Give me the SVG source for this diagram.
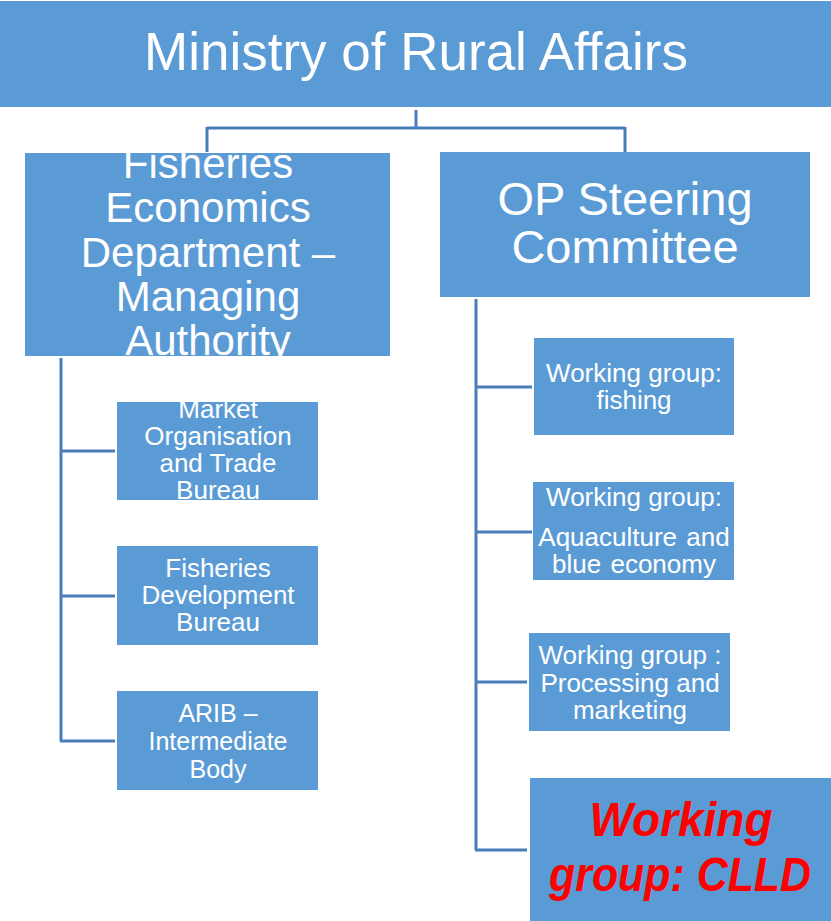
<svg xmlns="http://www.w3.org/2000/svg" width="831" height="921" viewBox="0 0 831 921">
<style>
.box{fill:#5B9BD5;}
.t{fill:#fff;font-family:"Liberation Sans",Arial,sans-serif;text-anchor:middle;}
.c{fill:none;stroke:#4A7EBB;stroke-width:3;}
.red{fill:#FF0000;font-family:"Liberation Sans",Arial,sans-serif;font-weight:bold;font-style:italic;text-anchor:middle;}
</style>
<rect width="831" height="921" fill="#fff"/>
<g id="connectors">
<path class="c" d="M416 110V128M207 128H625M207 127V152M625 127V152"/>
<path class="c" d="M61 358V741M60 451H115M60 596H115M60 741H115"/>
<path class="c" d="M476 299V850M475 387H532M475 532H532M475 682H527M475 850H527"/>
</g>
<g id="ministry">
<rect class="box" x="0" y="1" width="831" height="106"/>
<text class="t" x="416" y="70" font-size="53">Ministry of Rural Affairs</text>
</g>
<g id="fisheries-economics">
<rect class="box" x="25" y="153" width="365" height="203"/>
<text class="t" font-size="42"><tspan x="208" y="178">Fisheries</tspan><tspan x="208" y="222">Economics</tspan><tspan x="208" y="267">Department –</tspan><tspan x="208" y="311">Managing</tspan><tspan x="208" y="355">Authority</tspan></text>
</g>
<g id="op-steering">
<rect class="box" x="440" y="152" width="370" height="145"/>
<text class="t" font-size="47"><tspan x="625" y="215">OP Steering</tspan><tspan x="625" y="263">Committee</tspan></text>
</g>
<g id="market-org">
<rect class="box" x="117" y="402" width="201" height="98"/>
<text class="t" font-size="26"><tspan x="218" y="418">Market</tspan><tspan x="218" y="445">Organisation</tspan><tspan x="218" y="472">and Trade</tspan><tspan x="218" y="499">Bureau</tspan></text>
</g>
<g id="fisheries-dev">
<rect class="box" x="117" y="546" width="201" height="99"/>
<text class="t" font-size="26"><tspan x="218" y="577">Fisheries</tspan><tspan x="218" y="604">Development</tspan><tspan x="218" y="631">Bureau</tspan></text>
</g>
<g id="arib">
<rect class="box" x="117" y="691" width="201" height="99"/>
<text class="t" font-size="25"><tspan x="218" y="722">ARIB –</tspan><tspan x="218" y="750">Intermediate</tspan><tspan x="218" y="778">Body</tspan></text>
</g>
<g id="wg-fishing">
<rect class="box" x="534" y="338" width="200" height="97"/>
<text class="t" font-size="26"><tspan x="634" y="382">Working group:</tspan><tspan x="634" y="409">fishing</tspan></text>
</g>
<g id="wg-aquaculture">
<rect class="box" x="533" y="482" width="201" height="98"/>
<text class="t" font-size="26"><tspan x="634" y="506">Working group:</tspan><tspan x="634" y="546" word-spacing="2">Aquaculture and</tspan><tspan x="634" y="573" word-spacing="2">blue economy</tspan></text>
</g>
<g id="wg-processing">
<rect class="box" x="529" y="633" width="201" height="98"/>
<text class="t" font-size="26"><tspan x="630" y="664">Working group :</tspan><tspan x="630" y="692">Processing and</tspan><tspan x="630" y="719">marketing</tspan></text>
</g>
<g id="wg-clld">
<rect class="box" x="530" y="778" width="301" height="143"/>
<text class="red" font-size="49"><tspan x="681" y="836" textLength="183" lengthAdjust="spacingAndGlyphs">Working</tspan><tspan x="680" y="891" textLength="262" lengthAdjust="spacingAndGlyphs">group: CLLD</tspan></text>
</g>
</svg>
